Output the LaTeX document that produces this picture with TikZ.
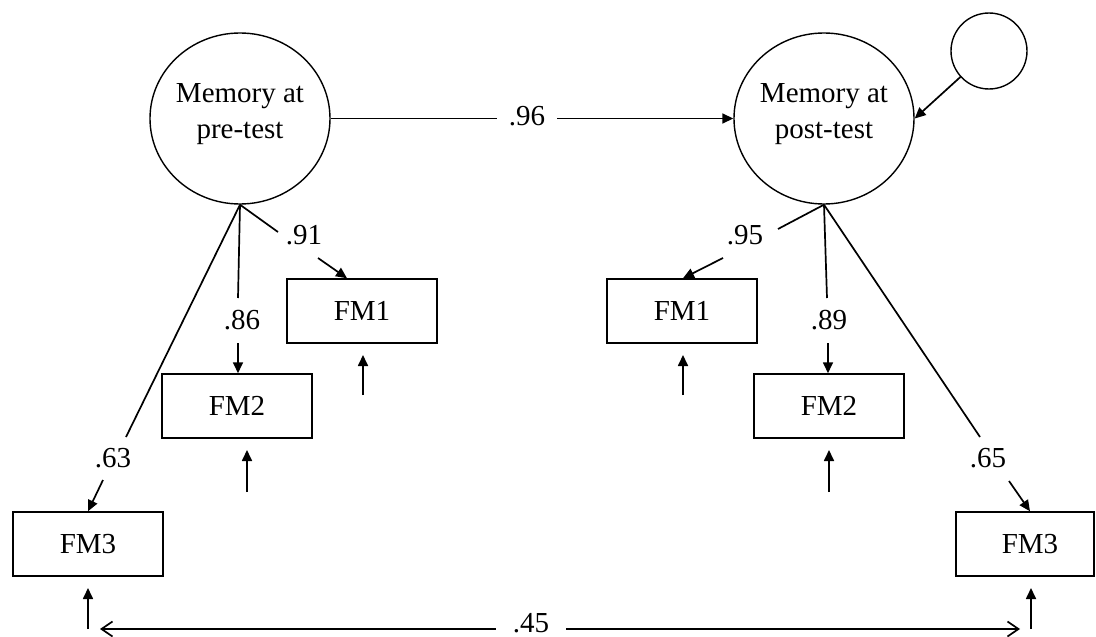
\documentclass[tikz,border=0pt]{standalone}
\usepackage{fontspec}
\setmainfont{Liberation Serif}
\usetikzlibrary{shapes.geometric,arrows.meta}
\newcommand\dfont{\fontsize{29}{36}\selectfont}
\begin{document}
\begin{tikzpicture}[x=1pt,y=-1pt,
  lat/.style={ellipse,draw,line width=1.4pt,minimum width=180pt,minimum height=171pt,inner sep=0pt},
  obs/.style={rectangle,draw,line width=1.5pt,minimum width=150pt,minimum height=64pt,inner sep=0pt,font=\dfont},
  lbl/.style={font=\dfont,inner sep=0pt},
  pth/.style={line width=1.7pt},
  arr/.style={line width=1.7pt,-{Triangle[length=11pt,width=10pt]}},
  barb/.style={line width=1.7pt,-{Straight Barb[length=11pt,width=15pt]}}
]
\useasboundingbox (0,0) rectangle (1096,637);

% latent variables
\node[lat] (pre) at (240,118.5) {};
\node[lat] (post) at (824,118.5) {};
\node[lbl,align=center] (preT) at (240,114) {Memory at\\pre-test};
\node[lbl,align=center] (postT) at (824,114) {Memory at\\post-test};
\node[circle,draw,line width=1.4pt,minimum size=76pt,inner sep=0pt] (dist) at (989,51) {};

% observed indicators
\node[obs] (fm1L) at (362,311) {FM1};
\node[obs] (fm2L) at (237,406) {FM2};
\node[obs] (fm3L) at (88,544) {FM3};
\node[obs] (fm1R) at (682,311) {FM1};
\node[obs] (fm2R) at (829,406) {FM2};
\node[obs,minimum width=138pt] (fm3R) at (1025,544) {\hspace*{10pt}FM3};

% structural path
\node[lbl] (l96) at (527,116) {.96};
\draw[pth] (pre.east) -- ([xshift=-12pt]pre.east -| l96.west);
\draw[arr] ([xshift=12pt]post.west -| l96.east) -- (post.west);
\draw[arr] (dist) -- (post.east);

% loading labels
\node[lbl] (l91) at (304,235) {.91};
\node[lbl] (l86) at (242,320) {.86};
\node[lbl] (l63) at (113,458) {.63};
\node[lbl] (l95) at (745,235) {.95};
\node[lbl] (l89) at (829,320) {.89};
\node[lbl] (l65) at (988,458) {.65};

% break points
\coordinate (a91) at (278,232); \coordinate (b91) at (318,258);
\coordinate (a86) at (238,298); \coordinate (b86) at (238,343);
\coordinate (a63) at (126,437); \coordinate (b63) at (103,480);
\coordinate (a95) at (778,229); \coordinate (b95) at (723,258);
\coordinate (a89) at (827,298); \coordinate (b89) at (828,343);
\coordinate (a65) at (980,437); \coordinate (b65) at (1009,481);

% loadings, pre-test
\draw[pth] (pre.south) -- (a91);
\draw[arr] (b91) -- ([xshift=-15pt]fm1L.north);
\draw[pth] (pre.south) -- (a86);
\draw[arr] (b86) -- (b86 |- fm2L.north);
\draw[pth] (pre.south) -- (a63);
\draw[arr] (b63) -- (fm3L.north);

% loadings, post-test
\draw[pth] (post.south) -- (a95);
\draw[arr] (b95) -- ([xshift=1pt]fm1R.north);
\draw[pth] (post.south) -- (a89);
\draw[arr] (b89) -- (b89 |- fm2R.north);
\draw[pth] (post.south) -- (a65);
\draw[arr] (b65) -- ([xshift=5pt]fm3R.north);

% error terms
\coordinate (e1La) at (363,395); \coordinate (e1Lb) at (363,355);
\coordinate (e2La) at (247,492); \coordinate (e2Lb) at (247,450);
\coordinate (e3La) at (88,629);  \coordinate (e3Lb) at (88,588);
\coordinate (e1Ra) at (683,395); \coordinate (e1Rb) at (683,355);
\coordinate (e2Ra) at (829,492); \coordinate (e2Rb) at (829,450);
\coordinate (e3Ra) at (1031,629); \coordinate (e3Rb) at (1031,588);
\draw[arr] (e1La) -- (e1Lb);
\draw[arr] (e2La) -- (e2Lb);
\draw[arr] (e3La) -- (e3Lb);
\draw[arr] (e1Ra) -- (e1Rb);
\draw[arr] (e2Ra) -- (e2Rb);
\draw[arr] (e3Ra) -- (e3Rb);

% residual covariance
\node[lbl] (l45) at (531,623) {.45};
\coordinate (covL) at (100,629);
\coordinate (covR) at (1020,629);
\draw[barb] ([xshift=-17pt]covL -| l45.west) -- (covL);
\draw[barb] ([xshift=17pt]covR -| l45.east) -- (covR);
\end{tikzpicture}
\end{document}
